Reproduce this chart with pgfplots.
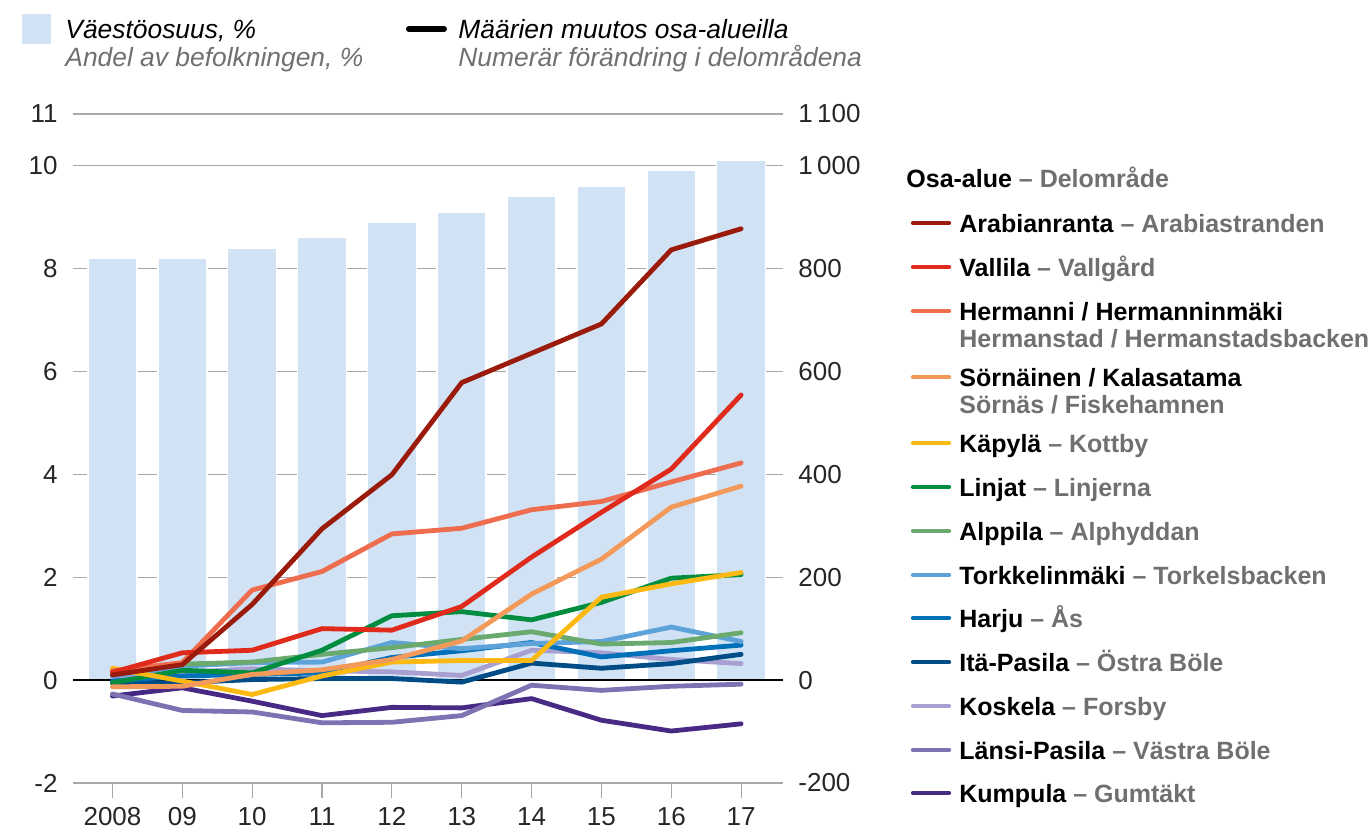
\documentclass[border=0pt]{standalone}
\usepackage{fontspec}
\setmainfont{Liberation Sans}
\usepackage{pgfplots}
\usepackage{pgfplotstable}
\pgfplotsset{compat=1.18}

\definecolor{barblue}{HTML}{D0E2F3}
\definecolor{txtgray}{HTML}{707070}
\definecolor{gridgray}{HTML}{A8A8A8}
\definecolor{cArab}{HTML}{9A1B0B}
\definecolor{cVall}{HTML}{E02A1B}
\definecolor{cHerm}{HTML}{EE6D4E}
\definecolor{cSorn}{HTML}{F39A5B}
\definecolor{cKapy}{HTML}{FDB913}
\definecolor{cLinj}{HTML}{008D3F}
\definecolor{cAlpp}{HTML}{6BAA6F}
\definecolor{cTork}{HTML}{5DA3DA}
\definecolor{cHarj}{HTML}{0070B9}
\definecolor{cItap}{HTML}{004C87}
\definecolor{cKosk}{HTML}{A9A0D2}
\definecolor{cLans}{HTML}{7F72B3}
\definecolor{cKump}{HTML}{482A84}

% population share, %
\pgfplotstableread{
x share
0 8.2
1 8.2
2 8.4
3 8.6
4 8.9
5 9.1
6 9.4
7 9.6
8 9.9
9 10.1
}\sharetab

% change in numbers per sub-area
\pgfplotstableread{
x arab vall herm sorn kapy linj alpp tork harj itap kosk lans kump
0 10 15 18 -13 23 -5 19 8 -2 -6 5 -27 -31
1 30 53 34 -12 -2 19 31 27 8 -5 15 -59 -15
2 147 58 175 11 -28 14 35 34 11 1 22 -62 -41
3 294 100 211 20 8 58 50 35 14 3 18 -83 -69
4 399 97 284 40 35 125 63 73 44 3 16 -82 -53
5 578 143 295 76 38 133 79 61 57 -4 9 -69 -54
6 635 239 331 167 38 117 94 71 73 33 58 -10 -36
7 692 326 347 235 161 151 70 75 45 23 53 -20 -78
8 836 410 385 336 187 198 73 103 57 32 40 -12 -99
9 877 554 422 377 209 205 92 75 68 50 32 -8 -85
}\linetab

\newcommand{\tickfont}{\fontsize{13}{15}\selectfont}
\newcommand{\lgfont}{\fontsize{12.5}{15}\selectfont}
\newcommand{\hdfont}{\fontsize{13.2}{15}\selectfont}

\begin{document}
\begin{tikzpicture}
\begin{scope}[x=0.5pt,y=-0.5pt]
\path[use as bounding box] (0,0) rectangle (1371,831);
\end{scope}

\begin{axis}[
    at={(36.5pt,-391.5pt)}, anchor=south west,
    scale only axis, width=355pt, height=334.5pt,
    xmin=-0.565, xmax=9.6, ymin=-2, ymax=11,
    axis x line*=bottom, axis y line*=left,
    x axis line style={gridgray, line width=0.6pt},
    y axis line style={draw=none},
    xtick={0,...,9},
    xticklabels={2008,09,10,11,12,13,14,15,16,17},
    tick align=outside, major tick length=7.5pt,
    xtick style={gridgray, line width=0.6pt},
    ytick={-2,0,2,4,6,8,10,11},
    yticklabels={-2,0,2,4,6,8,10,11},
    ytick style={draw=none},
    ymajorgrids, grid style={gridgray, line width=0.6pt},
    ticklabel style={font=\tickfont, text=black!85},
    yticklabel style={anchor=east, inner sep=0pt, xshift=0pt},
    xticklabel style={anchor=north, inner sep=0pt, yshift=-4.5pt},
    clip=false,
]
\addplot[ybar, bar width=24.5pt, fill=barblue, draw=white, line width=0.8pt]
    table[x=x, y=share] {\sharetab};
\draw[black, line width=1pt] (axis cs:-0.565,0) -- (axis cs:9.6,0);
\end{axis}

\begin{axis}[
    at={(36.5pt,-391.5pt)}, anchor=south west,
    scale only axis, width=355pt, height=334.5pt,
    xmin=-0.565, xmax=9.6, ymin=-200, ymax=1100,
    axis x line=none, axis y line*=right,
    y axis line style={draw=none},
    ytick={-200,0,200,400,600,800,1000,1100},
    yticklabels={-200,0,200,400,600,800,1\,000,1\,100},
    ytick style={draw=none},
    tick align=outside, major tick length=0pt,
    ticklabel style={font=\tickfont, text=black!85},
    yticklabel style={anchor=west, inner sep=0pt, xshift=7.5pt},
    every axis plot/.append style={line width=2.4pt, line join=round, line cap=round, no markers},
]
\addplot[cKump] table[x=x, y=kump] {\linetab};
\addplot[cLans] table[x=x, y=lans] {\linetab};
\addplot[cKosk] table[x=x, y=kosk] {\linetab};
\addplot[cItap] table[x=x, y=itap] {\linetab};
\addplot[cHarj] table[x=x, y=harj] {\linetab};
\addplot[cTork] table[x=x, y=tork] {\linetab};
\addplot[cAlpp] table[x=x, y=alpp] {\linetab};
\addplot[cLinj] table[x=x, y=linj] {\linetab};
\addplot[cKapy] table[x=x, y=kapy] {\linetab};
\addplot[cSorn] table[x=x, y=sorn] {\linetab};
\addplot[cHerm] table[x=x, y=herm] {\linetab};
\addplot[cVall] table[x=x, y=vall] {\linetab};
\addplot[cArab] table[x=x, y=arab] {\linetab};
\end{axis}

\begin{scope}[x=0.5pt,y=-0.5pt]
% top keys
\fill[barblue] (22,14) rectangle (51,44);
\node[anchor=base west, inner sep=0pt, font=\hdfont\itshape] at (65,38) {Väestöosuus, \%};
\node[anchor=base west, inner sep=0pt, font=\hdfont\itshape, text=txtgray] at (65,66) {Andel av befolkningen, \%};
\draw[black, line width=3pt, line cap=round] (409,29) -- (444,29);
\node[anchor=base west, inner sep=0pt, font=\hdfont\itshape] at (458,38) {Määrien muutos osa-alueilla};
\node[anchor=base west, inner sep=0pt, font=\hdfont\itshape, text=txtgray] at (458,66) {Numerär förändring i delområdena};

% sub-area key
\node[anchor=base west, inner sep=0pt, font=\lgfont\bfseries] at (906,187) {Osa-alue \textcolor{txtgray}{– Delområde}};
\newcommand{\key}[4]{%
  \draw[#2, line width=2.2pt, line cap=round] (913,#1) -- (949,#1);
  \node[anchor=base west, inner sep=0pt, font=\lgfont\bfseries] at (959,#1+9) {#3 \textcolor{txtgray}{– #4}};}
\newcommand{\keytwo}[4]{%
  \draw[#2, line width=2.2pt, line cap=round] (913,#1) -- (949,#1);
  \node[anchor=base west, inner sep=0pt, font=\lgfont\bfseries] at (959,#1+9) {#3};
  \node[anchor=base west, inner sep=0pt, font=\lgfont\bfseries, text=txtgray] at (959,#1+36) {#4};}
\key{223}{cArab}{Arabianranta}{Arabiastranden}
\key{267}{cVall}{Vallila}{Vallgård}
\keytwo{311}{cHerm}{Hermanni / Hermanninmäki}{Hermanstad / Hermanstadsbacken}
\keytwo{377}{cSorn}{Sörnäinen / Kalasatama}{Sörnäs / Fiskehamnen}
\key{443}{cKapy}{Käpylä}{Kottby}
\key{487}{cLinj}{Linjat}{Linjerna}
\key{531}{cAlpp}{Alppila}{Alphyddan}
\key{575}{cTork}{Torkkelinmäki}{Torkelsbacken}
\key{618}{cHarj}{Harju}{Ås}
\key{662}{cItap}{Itä-Pasila}{Östra Böle}
\key{706}{cKosk}{Koskela}{Forsby}
\key{750}{cLans}{Länsi-Pasila}{Västra Böle}
\key{793}{cKump}{Kumpula}{Gumtäkt}
\end{scope}
\end{tikzpicture}
\end{document}
